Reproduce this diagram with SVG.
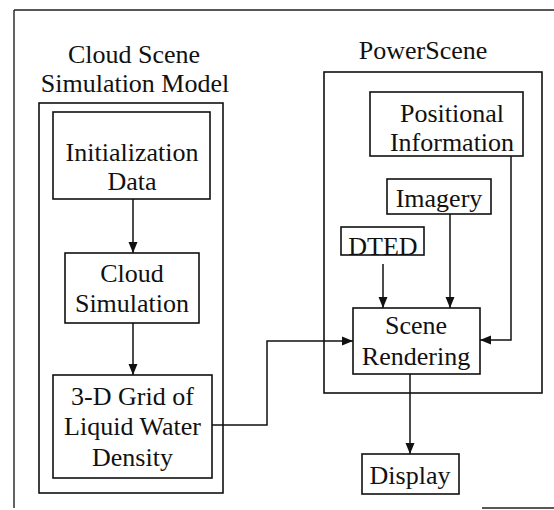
<svg xmlns="http://www.w3.org/2000/svg" width="554" height="510" viewBox="0 0 554 510">
<style>
.box{fill:#fff;stroke:#111;stroke-width:1.6}
.cont{fill:none;stroke:#111;stroke-width:1.6}
.frame{fill:none;stroke:#222;stroke-width:1.4}
.t{font-family:"Liberation Serif","Times New Roman",serif;font-size:26px;fill:#111;text-anchor:middle}
.c{fill:none;stroke:#111;stroke-width:1.5}
</style>
<defs>
<marker id="ah" markerUnits="userSpaceOnUse" markerWidth="12" markerHeight="10" refX="11" refY="5" orient="auto">
<path d="M0,0.5 L11,5 L0,9.5 z" fill="#111"/>
</marker>
</defs>
<rect width="554" height="510" fill="#fff"/>
<g id="frame">
<path class="frame" d="M14,10 H554 M14,10 V508 M482,508 H554"/>
</g>
<g id="cloud-model">
<text class="t" x="134" y="63">Cloud Scene</text>
<text class="t" x="135" y="92">Simulation Model</text>
<rect class="cont" x="39" y="103" width="184" height="390"/>
</g>
<g id="powerscene">
<text class="t" x="423" y="59">PowerScene</text>
<rect class="cont" x="324" y="72" width="218" height="321"/>
</g>
<g id="init">
<rect class="box" x="53" y="112" width="157" height="87"/>
<text class="t" x="132" y="161">Initialization</text>
<text class="t" x="132" y="190">Data</text>
</g>
<g id="cloudsim">
<rect class="box" x="65" y="253" width="134" height="70"/>
<text class="t" x="132" y="282">Cloud</text>
<text class="t" x="132" y="312">Simulation</text>
</g>
<g id="grid">
<rect class="box" x="53" y="375" width="159" height="103"/>
<text class="t" x="132.5" y="405">3-D Grid of</text>
<text class="t" x="132.5" y="435">Liquid Water</text>
<text class="t" x="132.5" y="466">Density</text>
</g>
<g id="positional">
<rect class="box" x="370" y="92" width="153" height="64"/>
<text class="t" x="452" y="122">Positional</text>
<text class="t" x="452" y="151">Information</text>
</g>
<g id="imagery">
<rect class="box" x="387" y="179" width="104" height="35"/>
<text class="t" x="439" y="207">Imagery</text>
</g>
<g id="dted">
<rect class="box" x="341" y="227" width="83" height="28"/>
<text class="t" x="383" y="255">DTED</text>
</g>
<g id="scene">
<rect class="box" x="353" y="308" width="127" height="66"/>
<text class="t" x="416" y="334">Scene</text>
<text class="t" x="416" y="365">Rendering</text>
</g>
<g id="display">
<rect class="box" x="362" y="454" width="97" height="40"/>
<text class="t" x="410" y="484">Display</text>
</g>
<g id="connectors">
<path class="c" d="M133,199 V253" marker-end="url(#ah)"/>
<path class="c" d="M133,323 V375" marker-end="url(#ah)"/>
<path class="c" d="M212,425 H267 V341 H353" marker-end="url(#ah)"/>
<path class="c" d="M383,264 V308" marker-end="url(#ah)"/>
<path class="c" d="M450,214 V308" marker-end="url(#ah)"/>
<path class="c" d="M511,156 V340 H480" marker-end="url(#ah)"/>
<path class="c" d="M410,374 V454" marker-end="url(#ah)"/>
</g>
</svg>
